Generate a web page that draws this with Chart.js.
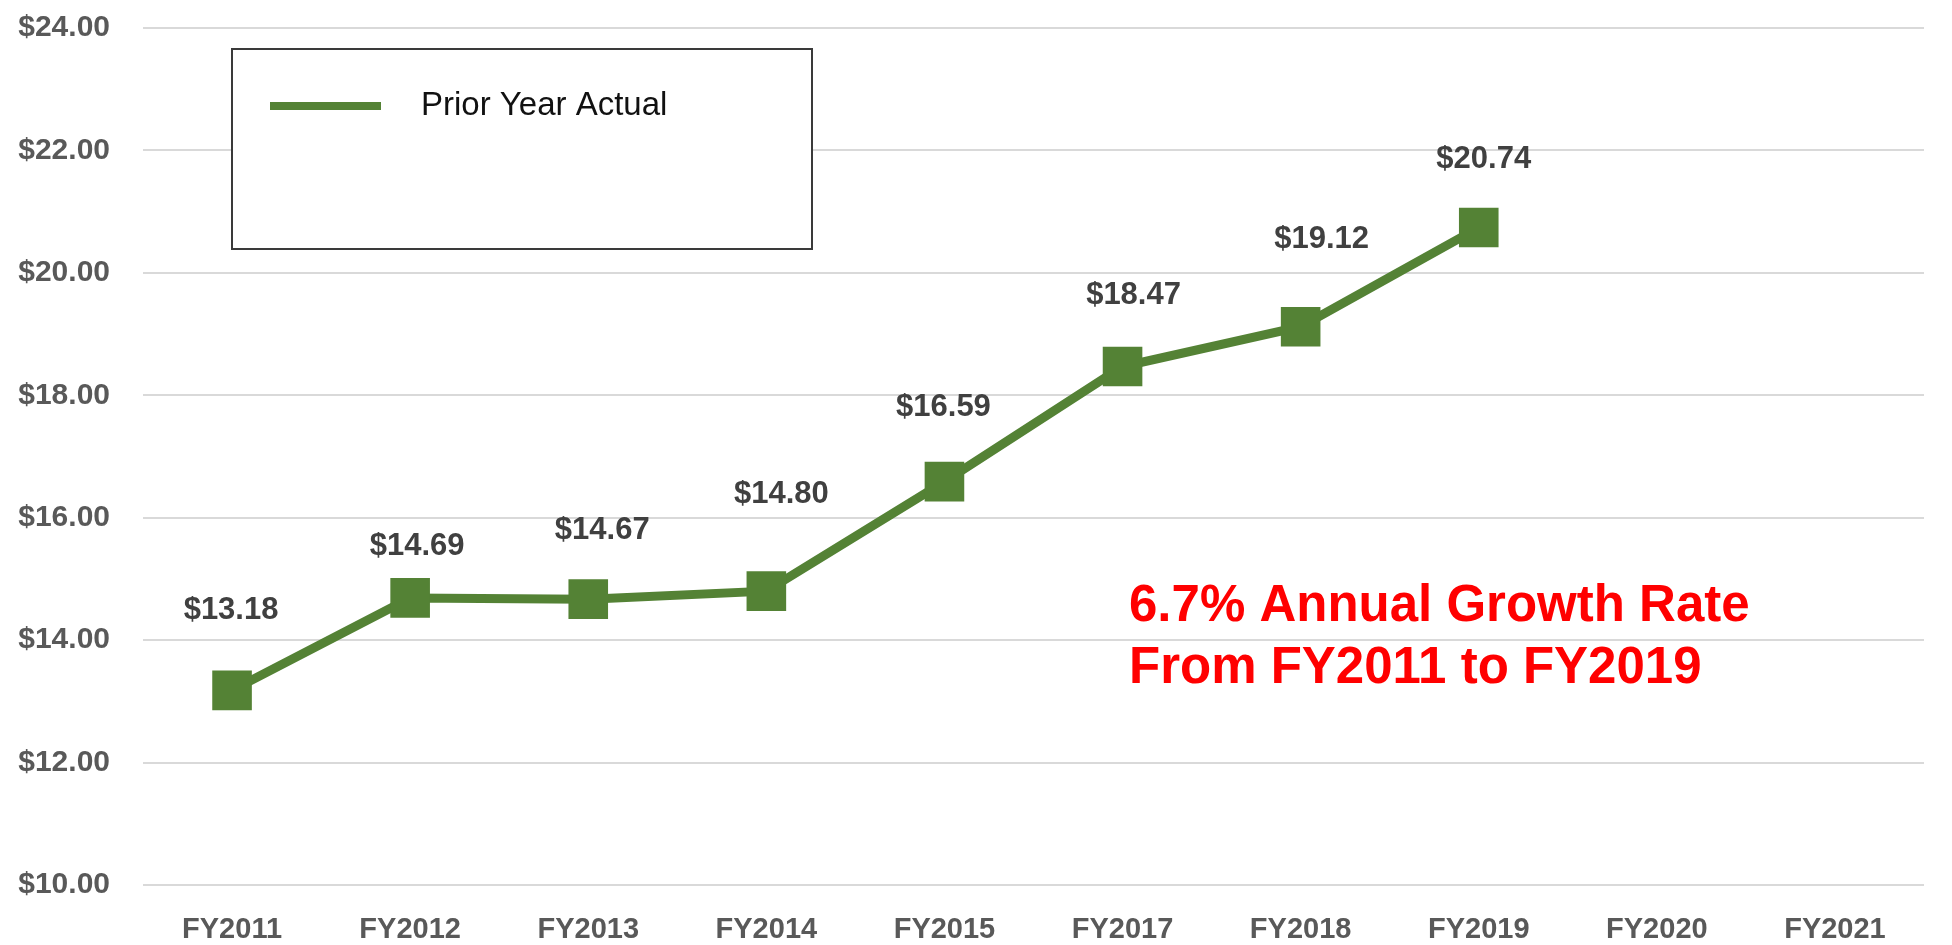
<!DOCTYPE html>
<html>
<head>
<meta charset="utf-8">
<script src="https://cdn.jsdelivr.net/npm/chart.js@4"></script>
<style>
  html, body { margin: 0; padding: 0; background: #fff; }
  #wrap { width: 1952px; height: 945px; }
</style>
</head>
<body>
<div id="wrap"><canvas id="chart" width="1952" height="945"></canvas></div>
<script>
// data
var years = ["FY2011", "FY2012", "FY2013", "FY2014", "FY2015", "FY2017", "FY2018", "FY2019", "FY2020", "FY2021"];
var priorYearActual = [13.18, 14.69, 14.67, 14.80, 16.59, 18.47, 19.12, 20.74, null, null];
var seriesName = "Prior Year Actual";
var note = ["6.7% Annual Growth Rate", "From FY2011 to FY2019"];

var green = 'rgb(84, 130, 53)';
// where each value label sits relative to its point (pixels), hand placed like the original
var labelShift = [[-1, 80], [7, 51], [14, 69], [15, 97], [-1, 74], [11, 71], [21, 87], [5, 68]];

var money = function (v) { return '$' + Number(v).toFixed(2); };

var extras = {
    id: 'extras',
    afterDatasetsDraw: function (chart) {
        var c = chart.ctx;
        var meta = chart.getDatasetMeta(0);
        c.save();
        // value labels
        c.font = 'bold 31px "Liberation Sans", Arial, sans-serif';
        c.fillStyle = '#404040';
        c.textAlign = 'center';
        c.textBaseline = 'middle';
        meta.data.forEach(function (pt, i) {
            var v = priorYearActual[i];
            if (v === null || v === undefined) return;
            var s = labelShift[i] || [0, 70];
            c.fillText(money(v), pt.x + s[0], pt.y - s[1]);
        });

        // legend box
        c.fillStyle = '#fff';
        c.fillRect(232, 49, 580, 200);
        c.strokeStyle = '#3a3a3a';
        c.lineWidth = 2;
        c.strokeRect(232, 49, 580, 200);
        c.strokeStyle = green;
        c.lineWidth = 8;
        c.beginPath();
        c.moveTo(270, 106);
        c.lineTo(381, 106);
        c.stroke();
        c.font = '33px "Liberation Sans", Arial, sans-serif';
        c.fillStyle = '#111';
        c.textAlign = 'left';
        c.fillText(chart.data.datasets[0].label, 421, 106);

        // red note
        c.font = 'bold 51px "Liberation Sans", Arial, sans-serif';
        c.fillStyle = '#ff0000';
        c.fillText(note[0], 1129, 607);
        c.fillText(note[1], 1129, 669);
        c.restore();
    }
};

var ctx = document.getElementById('chart').getContext('2d');
var chart = new Chart(ctx, {
    type: 'line',
    data: {
        labels: years,
        datasets: [{
            label: seriesName,
            data: priorYearActual,
            borderColor: green,
            backgroundColor: green,
            borderWidth: 9,
            pointStyle: 'rect',
            pointRadius: 28,
            pointHoverRadius: 28,
            pointBorderWidth: 0,
            pointBackgroundColor: green,
            tension: 0,
            spanGaps: false
        }]
    },
    options: {
        responsive: false,
        animation: false,
        layout: { padding: { top: 24, right: 0, bottom: 0, left: 0 } },
        plugins: {
            legend: { display: false },
            tooltip: { enabled: false }
        },
        scales: {
            x: {
                offset: true,
                grid: { display: false },
                border: { display: false },
                ticks: {
                    color: '#595959',
                    font: { family: '"Liberation Sans", Arial, sans-serif', size: 29, weight: 'bold' },
                    padding: 20,
                    maxRotation: 0,
                    autoSkip: false
                },
                afterFit: function (axis) {
                    axis.height = 60;
                    axis.paddingLeft = 0;
                    axis.paddingRight = 0;
                }
            },
            y: {
                min: 10,
                max: 24,
                grid: { color: '#d9d9d9', lineWidth: 2, drawTicks: false },
                border: { display: false },
                ticks: {
                    stepSize: 2,
                    color: '#595959',
                    font: { family: '"Liberation Sans", Arial, sans-serif', size: 30, weight: 'bold' },
                    padding: 33,
                    callback: function (v) { return money(v); }
                },
                afterFit: function (axis) {
                    axis.width = 143;
                    axis.paddingTop = 0;
                    axis.paddingBottom = 0;
                }
            }
        }
    },
    plugins: [extras]
});
</script>
</body>
</html>
